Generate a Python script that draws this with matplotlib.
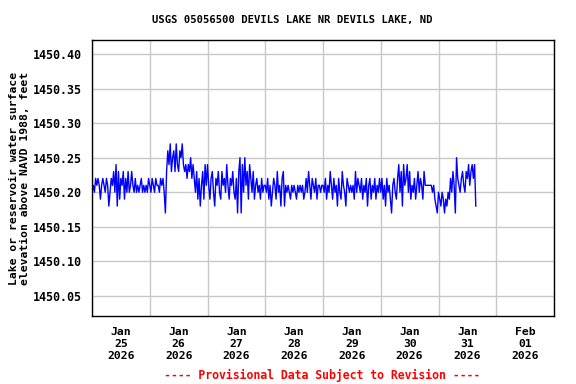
import numpy as np
import pandas as pd
import matplotlib
matplotlib.use("Agg")
import matplotlib.pyplot as plt
import matplotlib.dates as mdates

# Gage height readings, hundredths of a foot above 1450.00, every 30 min
jan25 = [20, 21, 20, 22, 21, 22, 21, 19, 21, 22, 21, 20, 22, 21, 18, 20,
         22, 21, 23, 20, 24, 18, 23, 19, 22, 21, 23, 19, 22, 20, 23, 20,
         21, 23, 21, 20, 22, 20, 21, 20, 21, 22, 20, 21, 20, 21, 20, 22]
jan26 = [21, 20, 22, 21, 20, 22, 21, 21, 20, 22, 21, 22, 20, 17, 23, 26,
         24, 27, 23, 25, 26, 23, 27, 24, 23, 26, 25, 27, 24, 23, 24, 22,
         24, 23, 25, 22, 24, 22, 20, 23, 19, 22, 18, 21, 23, 19, 24, 21]
jan27 = [24, 21, 19, 22, 23, 20, 18, 22, 21, 23, 20, 19, 23, 21, 22, 20,
         24, 21, 19, 22, 21, 23, 20, 19, 22, 17, 23, 25, 17, 24, 20, 25,
         21, 23, 19, 24, 22, 20, 23, 19, 21, 22, 20, 21, 19, 22, 20, 21]
jan28 = [21, 20, 22, 19, 21, 18, 20, 22, 21, 19, 23, 20, 21, 18, 22, 23,
         18, 21, 20, 21, 20, 19, 21, 20, 21, 20, 19, 21, 20, 21, 20, 21,
         19, 20, 22, 20, 23, 21, 19, 22, 21, 20, 22, 19, 21, 21, 20, 21]
jan29 = [21, 20, 22, 19, 21, 20, 23, 21, 19, 22, 20, 21, 18, 22, 20, 19,
         23, 21, 20, 18, 22, 21, 20, 21, 20, 21, 19, 23, 20, 22, 21, 20,
         22, 19, 21, 20, 22, 18, 21, 22, 19, 21, 20, 22, 19, 21, 20, 22]
jan30 = [20, 22, 19, 21, 18, 22, 20, 21, 19, 17, 21, 22, 20, 19, 22, 24,
         20, 23, 18, 24, 21, 22, 24, 20, 23, 19, 21, 20, 22, 19, 21, 23,
         20, 22, 21, 19, 23, 21, 21, 21, 21, 21, 21, 20, 21, 19, 18, 17]
jan31 = [20, 19, 18, 20, 19, 17, 19, 18, 20, 19, 22, 20, 23, 21, 17, 25,
         22, 21, 20, 22, 23, 21, 20, 23, 22, 24, 21, 23, 24, 22, 24, 18]

hundredths = jan25 + jan26 + jan27 + jan28 + jan29 + jan30 + jan31
level = 1450 + np.array(hundredths) / 100.0
times = pd.date_range("2026-01-25 00:00", periods=len(level), freq="30min")

yticks = [1450.05, 1450.10, 1450.15, 1450.20, 1450.25, 1450.30, 1450.35, 1450.40]

font = "DejaVu Sans Mono"
fig = plt.figure(figsize=(5.76, 3.84), dpi=100)
ax = fig.add_axes([92 / 576, 68 / 384, 462 / 576, 276 / 384])

ax.plot(times, level, color="#0000ff", linewidth=1.0)

ax.set_xlim(pd.Timestamp("2026-01-25"), pd.Timestamp("2026-02-02"))
ax.set_ylim(1450.021, 1450.4202)

# gridlines at midnight, labels at noon
ax.xaxis.set_major_locator(mdates.DayLocator())
ax.xaxis.set_major_formatter(plt.NullFormatter())
ax.xaxis.set_minor_locator(mdates.HourLocator(byhour=12))
ax.xaxis.set_minor_formatter(mdates.DateFormatter("%b\n%d\n%Y"))
ax.set_yticks(yticks)
ax.set_yticklabels(["%.2f" % v for v in yticks])

ax.grid(True, which="major", color="#c8c8c8", linewidth=1)
ax.tick_params(which="both", length=0)
ax.tick_params(axis="y", pad=7)
ax.tick_params(axis="x", which="minor", pad=8)
for lab in ax.get_yticklabels():
    lab.set_fontfamily(font)
    lab.set_fontweight("bold")
    lab.set_fontsize(8.4)
for lab in ax.xaxis.get_minorticklabels():
    lab.set_fontfamily(font)
    lab.set_fontweight("bold")
    lab.set_fontsize(8.2)
    lab.set_linespacing(1.22)
for sp in ax.spines.values():
    sp.set_linewidth(1)
    sp.set_color("black")

ax.set_ylabel("Lake or reservoir water surface\nelevation above NAVD 1988, feet",
              fontfamily=font, fontweight="bold", fontsize=8.2, linespacing=1.05)
ax.yaxis.set_label_coords(-0.135, 0.5)

fig.text(292 / 576, 1 - 20 / 384, "USGS 05056500 DEVILS LAKE NR DEVILS LAKE, ND",
         ha="center", va="center", fontfamily=font, fontweight="bold", fontsize=7.6)
fig.text(322 / 576, 1 - 375 / 384, "---- Provisional Data Subject to Revision ----",
         ha="center", va="center", fontfamily=font, fontweight="bold", fontsize=8.3,
         color="red")

fig.savefig("out.png", dpi=100)
